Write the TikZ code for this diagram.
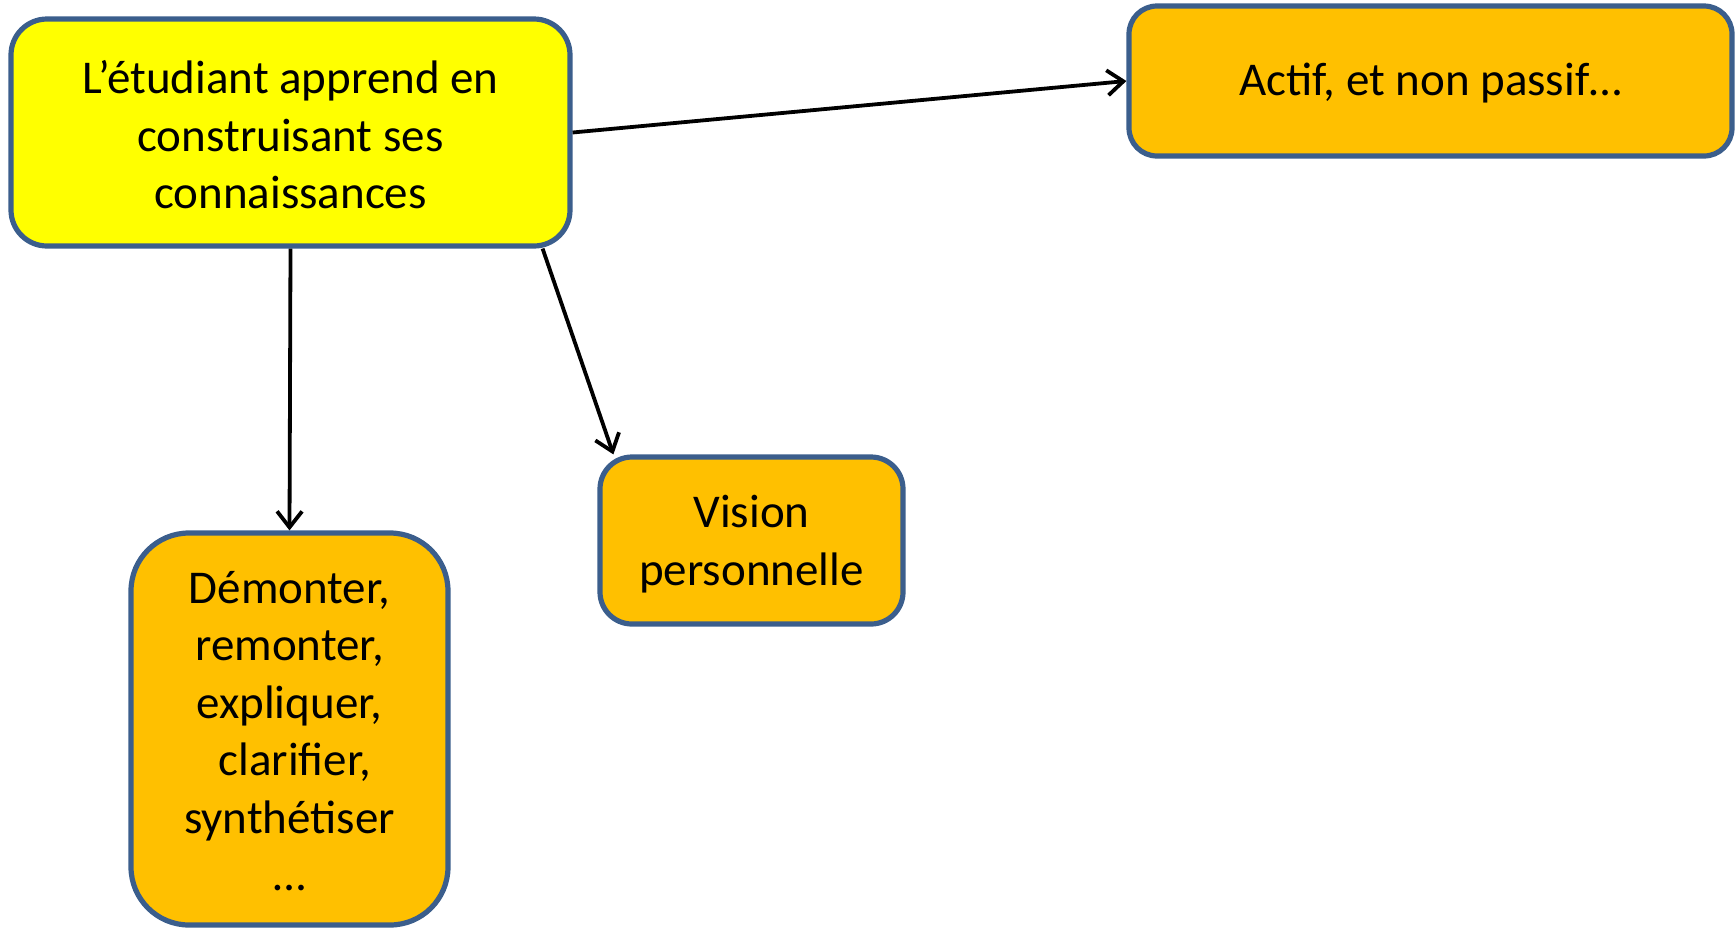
\documentclass[tikz,border=0pt]{standalone}
\usepackage{fontspec}
\setmainfont{Carlito}
\usetikzlibrary{arrows.meta}
\definecolor{boxborder}{HTML}{3B5E8C}
\definecolor{mainfill}{HTML}{FFFF00}
\definecolor{subfill}{HTML}{FFC000}
\newcommand{\boxtext}[2][-3pt]{\raisebox{#1}[\height][\depth]{\begin{tabular}{@{}c@{}}#2\end{tabular}}}
\begin{document}
\begin{tikzpicture}[x=1pt,y=-1pt,
  box/.style={draw=boxborder, line width=5.2pt, align=center, inner sep=0pt,
    font=\fontsize{47}{57.5}\selectfont},
  mainbox/.style={box, fill=mainfill, rounded corners=36pt},
  subbox/.style={box, fill=subfill},
  conn/.style={draw=black, line width=3.8pt, -{Straight Barb[length=16pt, width=25pt, line width=3.8pt]}}
]
\useasboundingbox (0,0) rectangle (1735,930);
\node[mainbox, minimum width=559pt, minimum height=227pt] (main) at (290.5,132.5)
  {\boxtext[-7pt]{L’étudiant apprend en\\construisant ses\\connaissances}};
\node[subbox, rounded corners=28pt, minimum width=603pt, minimum height=150pt] (actif) at (1430.5,81)
  {\boxtext[-2.5pt]{Actif, et non passif…}};
\node[subbox, rounded corners=32pt, minimum width=303pt, minimum height=167pt] (vision) at (751.5,540.5)
  {\boxtext[-4.5pt]{Vision\\personnelle}};
\node[subbox, rounded corners=58pt, minimum width=317pt, minimum height=392pt] (dem) at (289.5,729)
  {\boxtext[-6.5pt]{Démonter,\\remonter,\\expliquer,\\\ clarifier,\\synthétiser\\…}};
\draw[conn] (main.east) -- (actif.west);
\draw[conn] (main.south) -- (dem.north);
\draw[conn] ([xshift=-30pt]main.south east) -- ([xshift=16pt]vision.north west);
\end{tikzpicture}
\end{document}
